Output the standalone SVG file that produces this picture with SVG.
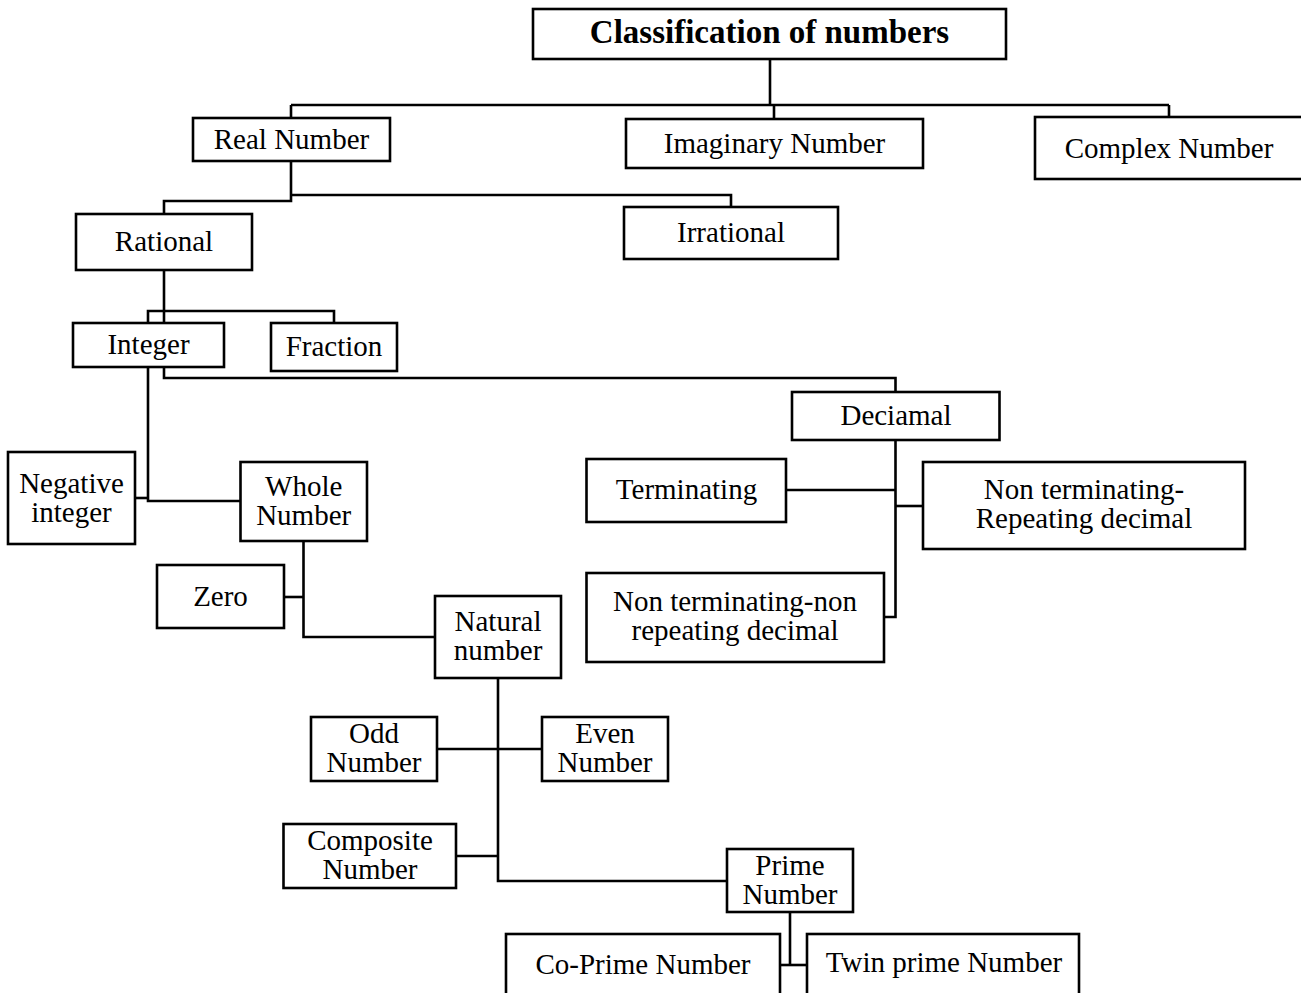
<svg xmlns="http://www.w3.org/2000/svg" width="1301" height="993" viewBox="0 0 1301 993">
<style>
rect{fill:#fff;stroke:#000;stroke-width:2.6}
.c path{fill:none;stroke:#000;stroke-width:2.6}
text{font-family:"Liberation Serif","Times New Roman",serif;font-size:29px;fill:#000;text-anchor:middle}
.t{font-weight:bold;font-size:33px}
</style>
<rect x="0" y="0" width="1301" height="993" style="stroke:none"/>
<g class="c" id="connectors">
<path d="M770,59 V105"/>
<path d="M291,105 H1169"/>
<path d="M291,105 V118"/>
<path d="M774,105 V119"/>
<path d="M1169,105 V117"/>
<path d="M291,161 V201 H164 V214"/>
<path d="M291,195 H731 V207"/>
<path d="M164,270 V323"/>
<path d="M148,323 V311 H334 V323"/>
<path d="M164,367 V378 H895.5 V392"/>
<path d="M148,367 V501 H240.5"/>
<path d="M135,498 H148"/>
<path d="M895.5,440 V617 H884"/>
<path d="M786,490 H895.5"/>
<path d="M895.5,506 H923"/>
<path d="M303.5,541 V637 H435"/>
<path d="M284,597 H303.5"/>
<path d="M498,678 V881 H727"/>
<path d="M437,749 H542"/>
<path d="M456,856 H498"/>
<path d="M790,912 V965"/>
<path d="M780,965 H807"/>
</g>
<g id="title"><rect x="533" y="9" width="473" height="50"/><text class="t" x="769.5" y="43">Classification of numbers</text></g>
<g id="real"><rect x="193" y="118" width="197" height="43"/><text x="291.5" y="149">Real Number</text></g>
<g id="imaginary"><rect x="626" y="119" width="297" height="49"/><text x="774.5" y="153">Imaginary Number</text></g>
<g id="complex"><rect x="1035" y="117" width="270" height="62"/><text x="1169" y="158">Complex Number</text></g>
<g id="rational"><rect x="76" y="214" width="176" height="56"/><text x="164" y="251">Rational</text></g>
<g id="irrational"><rect x="624" y="207" width="214" height="52"/><text x="731" y="242">Irrational</text></g>
<g id="integer"><rect x="73" y="323" width="151" height="44"/><text x="148.5" y="354">Integer</text></g>
<g id="fraction"><rect x="271" y="323" width="126" height="48"/><text x="334" y="356">Fraction</text></g>
<g id="deciamal"><rect x="792" y="392" width="207.5" height="48"/><text x="896" y="425">Deciamal</text></g>
<g id="negative"><rect x="8" y="452" width="127" height="92"/><text x="71.5" y="492.5">Negative</text><text x="71.5" y="521.5">integer</text></g>
<g id="whole"><rect x="240.5" y="462" width="126.5" height="79"/><text x="303.7" y="496">Whole</text><text x="303.7" y="525">Number</text></g>
<g id="terminating"><rect x="586.5" y="459" width="199.5" height="63"/><text x="686.5" y="499">Terminating</text></g>
<g id="ntrd"><rect x="923" y="462" width="322" height="87"/><text x="1084" y="499">Non terminating-</text><text x="1084" y="528">Repeating decimal</text></g>
<g id="zero"><rect x="157" y="565" width="127" height="63"/><text x="220.5" y="606">Zero</text></g>
<g id="ntnr"><rect x="586.5" y="573" width="297.5" height="89"/><text x="735" y="611">Non terminating-non</text><text x="735" y="640">repeating decimal</text></g>
<g id="natural"><rect x="435" y="596" width="126" height="82"/><text x="498" y="631">Natural</text><text x="498" y="660">number</text></g>
<g id="odd"><rect x="311" y="717" width="126" height="64"/><text x="374" y="743">Odd</text><text x="374" y="772">Number</text></g>
<g id="even"><rect x="542" y="717" width="126" height="64"/><text x="605" y="743">Even</text><text x="605" y="772">Number</text></g>
<g id="composite"><rect x="283.5" y="824" width="172.5" height="64"/><text x="370" y="850">Composite</text><text x="370" y="879">Number</text></g>
<g id="prime"><rect x="727" y="849" width="126" height="63"/><text x="790" y="875">Prime</text><text x="790" y="904">Number</text></g>
<g id="coprime"><rect x="506" y="934" width="274" height="70"/><text x="643" y="974">Co-Prime Number</text></g>
<g id="twin"><rect x="807" y="934" width="272" height="70"/><text x="944" y="972">Twin prime Number</text></g>
</svg>
